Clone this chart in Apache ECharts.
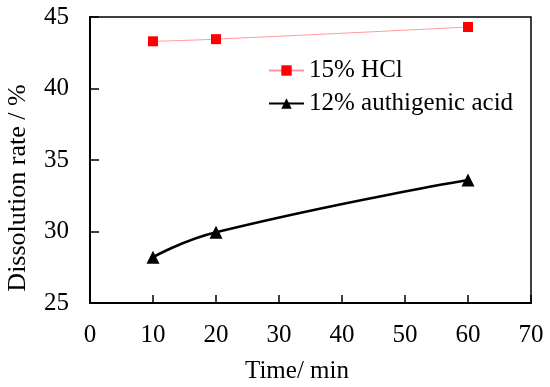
<!DOCTYPE html>
<html>
<head>
<meta charset="utf-8">
<script src="https://cdn.jsdelivr.net/npm/echarts@6/dist/echarts.min.js"></script>
<style>html,body{margin:0;padding:0;background:#fff}#c{width:550px;height:387px}</style>
</head>
<body>
<div id="c"></div>
<script>
const times = [10, 20, 60];
const hclValues = [43.3, 43.45, 44.3];
const acidValues = [28.2, 29.95, 33.6];
const seriesNames = ['15% HCl', '12% authigenic acid'];
const xTitle = 'Time/ min';
const yTitle = 'Dissolution rate / %';

const font = 'Liberation Serif';
const chart = echarts.init(document.getElementById('c'));
chart.setOption({
  animation: false,
  grid: {left: 90, right: 19, top: 17, bottom: 84, show: true, borderColor: '#000', borderWidth: 1.5, backgroundColor: 'transparent'},
  legend: {
    orient: 'vertical', left: 263, top: 53, itemGap: 8, itemWidth: 35, itemHeight: 13,
    textStyle: {fontFamily: font, fontSize: 25, color: '#000'},
    data: [seriesNames[0], seriesNames[1]]
  },
  xAxis: {
    type: 'value', min: 0, max: 70, interval: 10,
    axisLine: {lineStyle: {color: '#000', width: 2}},
    axisTick: {inside: true, length: 8, lineStyle: {color: '#000', width: 1.5}},
    axisLabel: {fontFamily: font, fontSize: 25, color: '#000', margin: 20},
    splitLine: {show: false}
  },
  yAxis: {
    type: 'value', min: 25, max: 45, interval: 5,
    axisLine: {show: true, lineStyle: {color: '#000', width: 2}},
    axisTick: {show: true, inside: true, length: 9, lineStyle: {color: '#000', width: 1.5}},
    axisLabel: {fontFamily: font, fontSize: 25, color: '#000', margin: 21},
    splitLine: {show: false}
  },
  graphic: [
    {type: 'text', left: 245, top: 359, style: {text: xTitle, font: '25px "Liberation Serif"', fill: '#000'}},
    {type: 'text', x: 18, y: 188, rotation: Math.PI / 2, style: {text: yTitle, font: '26px "Liberation Serif"', fill: '#000', align: 'center', verticalAlign: 'middle'}}
  ],
  series: [
    {
      name: seriesNames[0], type: 'line', smooth: true,
      data: times.map((t, i) => [t, hclValues[i]]),
      symbol: 'rect', symbolSize: 10,
      itemStyle: {color: '#ff0000'},
      lineStyle: {color: '#ff9a9a', width: 1}
    },
    {
      name: seriesNames[1], type: 'line', smooth: true,
      data: times.map((t, i) => [t, acidValues[i]]),
      symbol: 'triangle', symbolSize: 13,
      itemStyle: {color: '#000'},
      lineStyle: {color: '#000', width: 2.5}
    }
  ]
});
</script>
</body>
</html>
